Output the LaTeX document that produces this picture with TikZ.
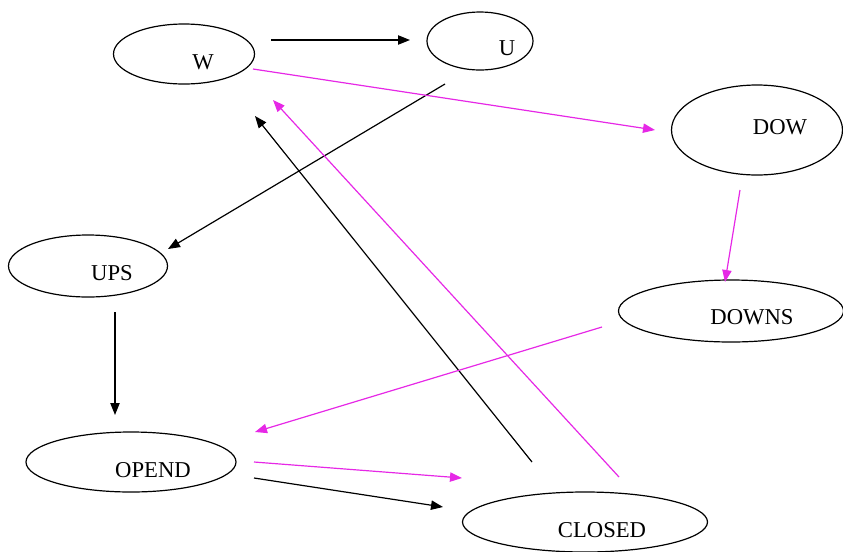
\documentclass[tikz,border=0pt]{standalone}
\usepackage{fontspec}
\setmainfont{Liberation Serif}
\usetikzlibrary{shapes.geometric,arrows.meta}
\definecolor{pinkline}{RGB}{230,40,230}
\tikzset{
  state/.style={ellipse,draw,line width=0.9pt,inner sep=0pt},
  tip/.style={-{Triangle[length=9pt,width=7pt]},line width=0.9pt},
}
\begin{document}
\begin{tikzpicture}[x=0.75pt,y=-0.75pt,font=\fontsize{17}{20}\selectfont]
      \useasboundingbox (0,0) rectangle (843,551);
      \path
        (184,54) node[state,minimum width=105.75pt,minimum height=45pt,
          label={[xshift=14.25pt,yshift=-6pt]center:W}] (W){}
        (480,41) node[state,minimum width=79.5pt,minimum height=43.5pt,
          label={[xshift=20.25pt,yshift=-5.25pt]center:U}] (U){}
        (757,130) node[state,minimum width=128.25pt,minimum height=67.5pt,
          label={[xshift=17.25pt,yshift=2.25pt]center:DOW}] (DOW){}
        (731,311) node[state,minimum width=168.75pt,minimum height=46.5pt,
          label={[xshift=15.75pt,yshift=-4.5pt]center:DOWNS}] (DOWNS){}
        (88,266) node[state,minimum width=119.25pt,minimum height=46.5pt,
          label={[xshift=18pt,yshift=-5.25pt]center:UPS}] (UPS){}
        (131,462) node[state,minimum width=157.5pt,minimum height=45pt,
          label={[xshift=16.5pt,yshift=-6pt]center:OPEND}] (OPEND){}
        (585,522) node[state,minimum width=183.75pt,minimum height=45pt,
          label={[xshift=12.75pt,yshift=-6pt]center:CLOSED}] (CLOSED){};
      % free ends of the connectors
      \coordinate (W-u) at (271,40);       \coordinate (U-w) at (410,40);
      \coordinate (U-ups) at (445,84);     \coordinate (UPS-u) at (168,249);
      \coordinate (W-dow) at (253,69);     \coordinate (DOW-w) at (655,130);
      \coordinate (DOW-dns) at (740,190);  \coordinate (DOWNS-dow) at (725,282);
      \coordinate (DOWNS-op) at (602,327); \coordinate (OPEND-dns) at (255,432);
      \coordinate (UPS-op) at (115,312);   \coordinate (OPEND-ups) at (115,415);
      \coordinate (OPEND-c1) at (254,462); \coordinate (CLOSED-o1) at (462,478);
      \coordinate (OPEND-c2) at (254,478); \coordinate (CLOSED-o2) at (443,507);
      \coordinate (CLOSED-w1) at (532,462); \coordinate (W-c1) at (255,116);
      \coordinate (CLOSED-w2) at (619,477); \coordinate (W-c2) at (273,100);
      \begin{scope}[tip]
        \draw (W-u) to (U-w);
        \draw (U-ups) to (UPS-u);
        \draw (UPS-op) to (OPEND-ups);
        \draw (OPEND-c2) to (CLOSED-o2);
        \draw (CLOSED-w1) to (W-c1);
      \end{scope}
      \begin{scope}[tip,pinkline]
        \draw (W-dow) to (DOW-w);
        \draw (DOW-dns) to (DOWNS-dow);
        \draw (DOWNS-op) to (OPEND-dns);
        \draw (OPEND-c1) to (CLOSED-o1);
        \draw (CLOSED-w2) to (W-c2);
      \end{scope}
    \end{tikzpicture}
\end{document}
